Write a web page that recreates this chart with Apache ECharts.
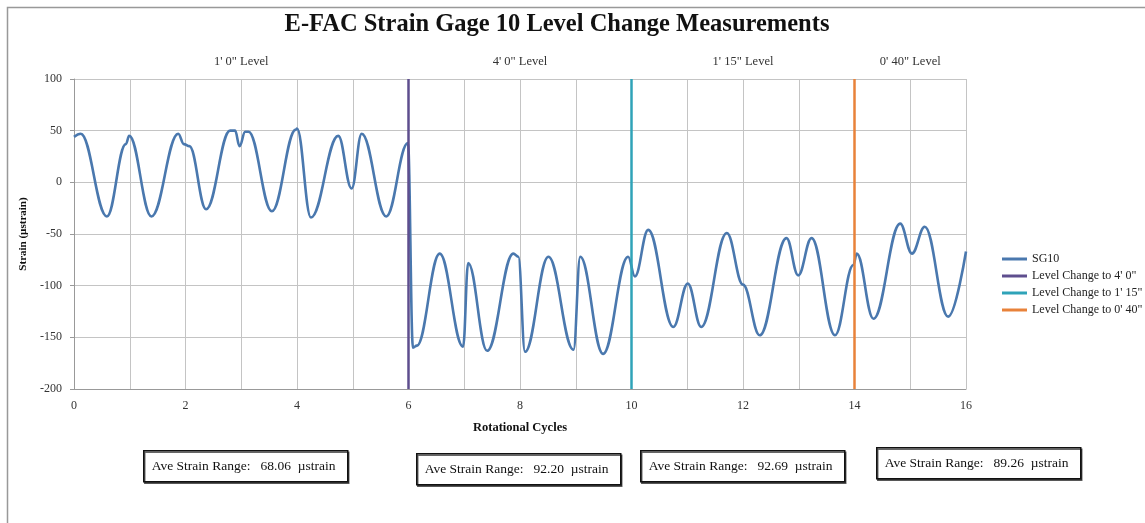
<!DOCTYPE html>
<html>
<head>
<meta charset="utf-8">
<script src="https://cdn.jsdelivr.net/npm/echarts@6/dist/echarts.min.js"></script>
<style>
  html, body { margin: 0; padding: 0; background: #fff; }
  #chart { width: 1145px; height: 523px; }
</style>
</head>
<body>
<div id="chart"></div>
<script>
// SG10 strain trace: [rotational cycle, strain]
const sg10 = [
  [0.0, 44], [0.12, 47], [0.59, -33], [0.93, 37], [0.99, 45], [1.39, -33],
  [1.87, 47], [1.97, 37], [2.07, 35], [2.37, -26], [2.8, 50], [2.89, 50],
  [2.97, 35], [3.07, 49], [3.13, 49], [3.55, -28], [3.98, 51], [4.0, 52],
  [4.25, -34], [4.74, 45], [4.98, -6], [5.16, 47], [5.6, -33], [5.99, 38],
  [6.08, -160], [6.15, -158], [6.56, -69], [6.98, -159], [7.07, -78],
  [7.41, -163], [7.88, -69], [7.97, -72], [8.09, -164], [8.51, -72],
  [8.96, -162], [9.08, -72], [9.49, -166], [9.94, -72], [10.06, -91],
  [10.3, -46], [10.75, -140], [11.01, -98], [11.25, -140], [11.71, -49],
  [12.0, -99], [12.3, -148], [12.78, -54], [12.99, -90], [13.23, -54],
  [13.65, -148], [13.98, -80], [14.04, -69], [14.34, -132], [14.82, -40],
  [15.03, -69], [15.26, -43], [15.68, -130], [16.0, -67]
];

// level changes (vertical markers)
const changeNames = ['Level Change to 4\' 0"', 'Level Change to 1\' 15"', 'Level Change to 0\' 40"'];
const changeAt = [6, 10, 14];
const changeColors = ['#5E4E8E', '#2FA3B8', '#E8823A'];

// level bands shown above the plot
const levelNames = ['1\' 0" Level', '4\' 0" Level', '1\' 15" Level', '0\' 40" Level'];
const levelEdges = [0, 6, 10, 14, 16];

// average strain range boxes
const aveRanges = ['68.06', '92.20', '92.69', '89.26'];
const boxPos = [[143, 450], [416, 453], [640, 450], [876, 447]];

const serif = '"Liberation Serif", "DejaVu Serif", serif';

const chart = echarts.init(document.getElementById('chart'));

const markers = changeAt.map((x, i) => ({
  name: changeNames[i],
  type: 'line',
  data: [[x, -200], [x, 100]],
  symbol: 'none',
  color: changeColors[i],
  lineStyle: { width: 2.5, color: changeColors[i] },
  z: 3,
  silent: true
}));

const boxes = aveRanges.map((v, i) => ({
  type: 'group',
  left: boxPos[i][0],
  top: boxPos[i][1],
  children: [
    { type: 'rect', shape: { x: 0, y: 0, width: 204, height: 31 },
      style: { fill: '#fff', stroke: '#111', lineWidth: 1.5,
        shadowColor: 'rgba(0,0,0,0.6)', shadowOffsetX: 1, shadowOffsetY: 1.5 } },
    { type: 'text', x: 8, y: 16,
      style: { text: 'Ave Strain Range:   ' + v + '  \u00b5strain', font: '13.5px ' + serif,
        fill: '#111', verticalAlign: 'middle' } }
  ]
}));

const option = {
  animation: false,
  backgroundColor: '#fff',
  textStyle: { fontFamily: serif },
  title: {
    text: 'E-FAC Strain Gage 10 Level Change Measurements',
    left: 552, top: 7, textAlign: 'center',
    textStyle: { fontFamily: serif, fontSize: 24.5, fontWeight: 'bold', color: '#111' }
  },
  grid: { left: 74, right: 179, top: 79, bottom: 134 },
  legend: {
    orient: 'vertical',
    left: 997, top: 248,
    icon: 'rect', itemWidth: 25, itemHeight: 3, itemGap: 5, itemStyle: { borderWidth: 0 },
    textStyle: { fontFamily: serif, fontSize: 12, color: '#222', lineHeight: 12 },
    data: ['SG10'].concat(changeNames)
  },
  xAxis: {
    type: 'value', min: 0, max: 16, interval: 1,
    name: 'Rotational Cycles', nameLocation: 'middle', nameGap: 32,
    nameTextStyle: { fontFamily: serif, fontSize: 12.5, fontWeight: 'bold', color: '#111' },
    axisLine: { onZero: false, lineStyle: { color: '#999' } },
    axisTick: { show: false },
    axisLabel: { fontFamily: serif, fontSize: 12, color: '#333', margin: 11,
      formatter: v => (v % 2 === 0 ? String(v) : '') },
    splitLine: { show: true, lineStyle: { color: '#c4c4c4', width: 1 } }
  },
  yAxis: {
    type: 'value', min: -200, max: 100, interval: 50,
    name: 'Strain (\u00b5strain)', nameLocation: 'middle', nameGap: 44, nameRotate: 90,
    nameTextStyle: { fontFamily: serif, fontSize: 11, fontWeight: 'bold', color: '#111' },
    axisLine: { show: true, onZero: false, lineStyle: { color: '#999' } },
    axisTick: { show: true, length: 4, lineStyle: { color: '#999' } },
    axisLabel: { fontFamily: serif, fontSize: 12, color: '#333', margin: 12 },
    splitLine: { show: true, lineStyle: { color: '#c4c4c4', width: 1 } }
  },
  series: [{
    name: 'SG10',
    type: 'line',
    data: sg10,
    symbol: 'none',
    smooth: 0.4,
    smoothMonotone: 'x',
    color: '#4A78AE',
    lineStyle: { width: 2.6, color: '#4A78AE' },
    z: 2,
    markArea: {
      silent: true,
      itemStyle: { color: 'rgba(0,0,0,0)' },
      label: { position: 'top', distance: 11, fontFamily: serif, fontSize: 12.5, color: '#333' },
      data: levelNames.map((n, i) => [{ name: n, xAxis: levelEdges[i] }, { xAxis: levelEdges[i + 1] }])
    }
  }].concat(markers),
  graphic: [
    { type: 'rect', left: 5, top: 5, z: -10, silent: true,
      shape: { width: 1160, height: 540 },
      style: { fill: 'none', stroke: '#999', lineWidth: 1.5 } }
  ].concat(boxes)
};

chart.setOption(option);
</script>
</body>
</html>
